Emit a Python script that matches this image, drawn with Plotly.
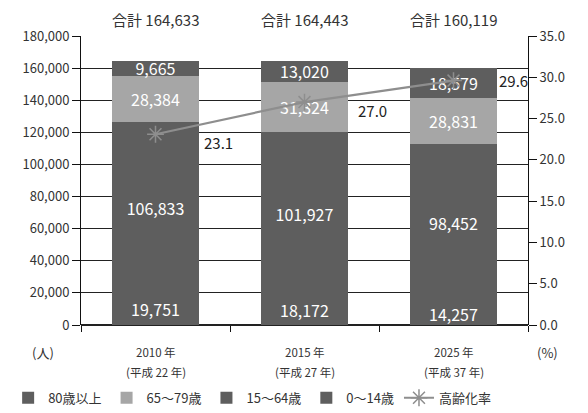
import plotly.graph_objects as go

categories = ["2010 年", "2015 年", "2025 年"]
cat_line2 = ["(平成 22 年)", "(平成 27 年)", "(平成 37 年)"]
age_0_14 = [19751, 18172, 14257]
age_15_64 = [106833, 101927, 98452]
age_65_79 = [28384, 31324, 28831]
age_80_plus = [9665, 13020, 18579]
totals = [164633, 164443, 160119]
aging_rate = [23.1, 27.0, 29.6]

FONT = "Noto Sans CJK JP"
DARK = "#5e5e5e"
LIGHT = "#a6a6a6"
TXT = "#333333"

fig = go.Figure()

series = [
    ("0～14歳", age_0_14, DARK, 4),
    ("15～64歳", age_15_64, DARK, 3),
    ("65～79歳", age_65_79, LIGHT, 2),
    ("80歳以上", age_80_plus, DARK, 1),
]
for name, vals, col, rank in series:
    fig.add_trace(go.Bar(
        x=categories, y=vals, name=name, marker_color=col, marker_line_width=0,
        text=[f"{v:,}" for v in vals], textposition="inside", insidetextanchor="middle",
        textfont=dict(color="white", size=16, family=FONT), legendrank=rank,
        textangle=0, constraintext="none",
    ))

fig.add_trace(go.Scatter(
    x=categories, y=aging_rate, name="高齢化率", yaxis="y2", mode="lines+markers",
    line=dict(color="#8e8e8e", width=2.2),
    marker=dict(symbol="asterisk-open", size=14, color="#8e8e8e", line=dict(color="#8e8e8e", width=1.5)),
    legendrank=5,
))

ann = []
shifts = [(63, -8), (68, -8), (60, 0)]
for i, (r, (dx, dy)) in enumerate(zip(aging_rate, shifts)):
    ann.append(dict(x=i, y=r, xref="x", yref="y2", text=f"{r:.1f}", showarrow=False,
                    xshift=dx, yshift=dy, font=dict(size=15, color="#222", family=FONT)))
for i, t in enumerate(totals):
    ann.append(dict(x=i, y=1, xref="x", yref="paper", yanchor="middle", yshift=17,
                    text=f"合計 {t:,}", showarrow=False, font=dict(size=15, color=TXT, family=FONT)))
for i, (l1, l2) in enumerate(zip(categories, cat_line2)):
    ann.append(dict(x=i, y=0, xref="x", yref="paper", yanchor="middle", yshift=-27,
                    text=l1, showarrow=False, font=dict(size=11.5, color=TXT, family=FONT)))
    ann.append(dict(x=i, y=0, xref="x", yref="paper", yanchor="middle", yshift=-47,
                    text=l2, showarrow=False, font=dict(size=11.5, color=TXT, family=FONT)))
ann.append(dict(x=-0.114, y=0, xref="paper", yref="paper", yanchor="middle", yshift=-27,
                text="(人)", showarrow=False, font=dict(size=13, color=TXT, family=FONT)))
ann.append(dict(x=1.072, y=0, xref="paper", yref="paper", yanchor="middle", yshift=-27,
                text="(%)", showarrow=False, font=dict(size=13, color=TXT, family=FONT)))

fig.update_layout(
    width=580, height=405,
    margin=dict(l=73, r=60, t=28, b=88, autoexpand=False),
    paper_bgcolor="white", plot_bgcolor="white",
    barmode="stack", bargap=0.42,
    uniformtext=dict(minsize=16, mode="show"),
    font=dict(family=FONT, color=TXT, size=13),
    xaxis=dict(type="category", range=[-0.5, 2.5], showgrid=False, showticklabels=False,
               ticks="outside", tickson="boundaries", ticklen=6, tickcolor="#111",
               showline=False, zeroline=False),
    yaxis=dict(range=[0, 180000], dtick=20000, tickformat=",", showgrid=True, gridcolor="#222",
               gridwidth=1, showline=True, linecolor="#111", linewidth=1, ticks="outside",
               ticklen=8, tickcolor="#111", zeroline=True, zerolinecolor="#222",
               tickfont=dict(size=13, color=TXT, family=FONT)),
    yaxis2=dict(range=[0, 35], dtick=5, tickformat=".1f", overlaying="y", side="right",
                showgrid=False, showline=True, linecolor="#111", linewidth=1, ticks="outside",
                ticklen=8, tickcolor="#111", zeroline=False,
                tickfont=dict(size=13, color=TXT, family=FONT)),
    showlegend=True,
    legend=dict(orientation="h", x=-0.163, xanchor="left",
                y=-0.2, yanchor="top",
                traceorder="normal",
                font=dict(size=13, color=TXT, family=FONT),
                tracegroupgap=0, bgcolor="rgba(0,0,0,0)"),
    annotations=ann,
)

fig.write_html("out.html")
